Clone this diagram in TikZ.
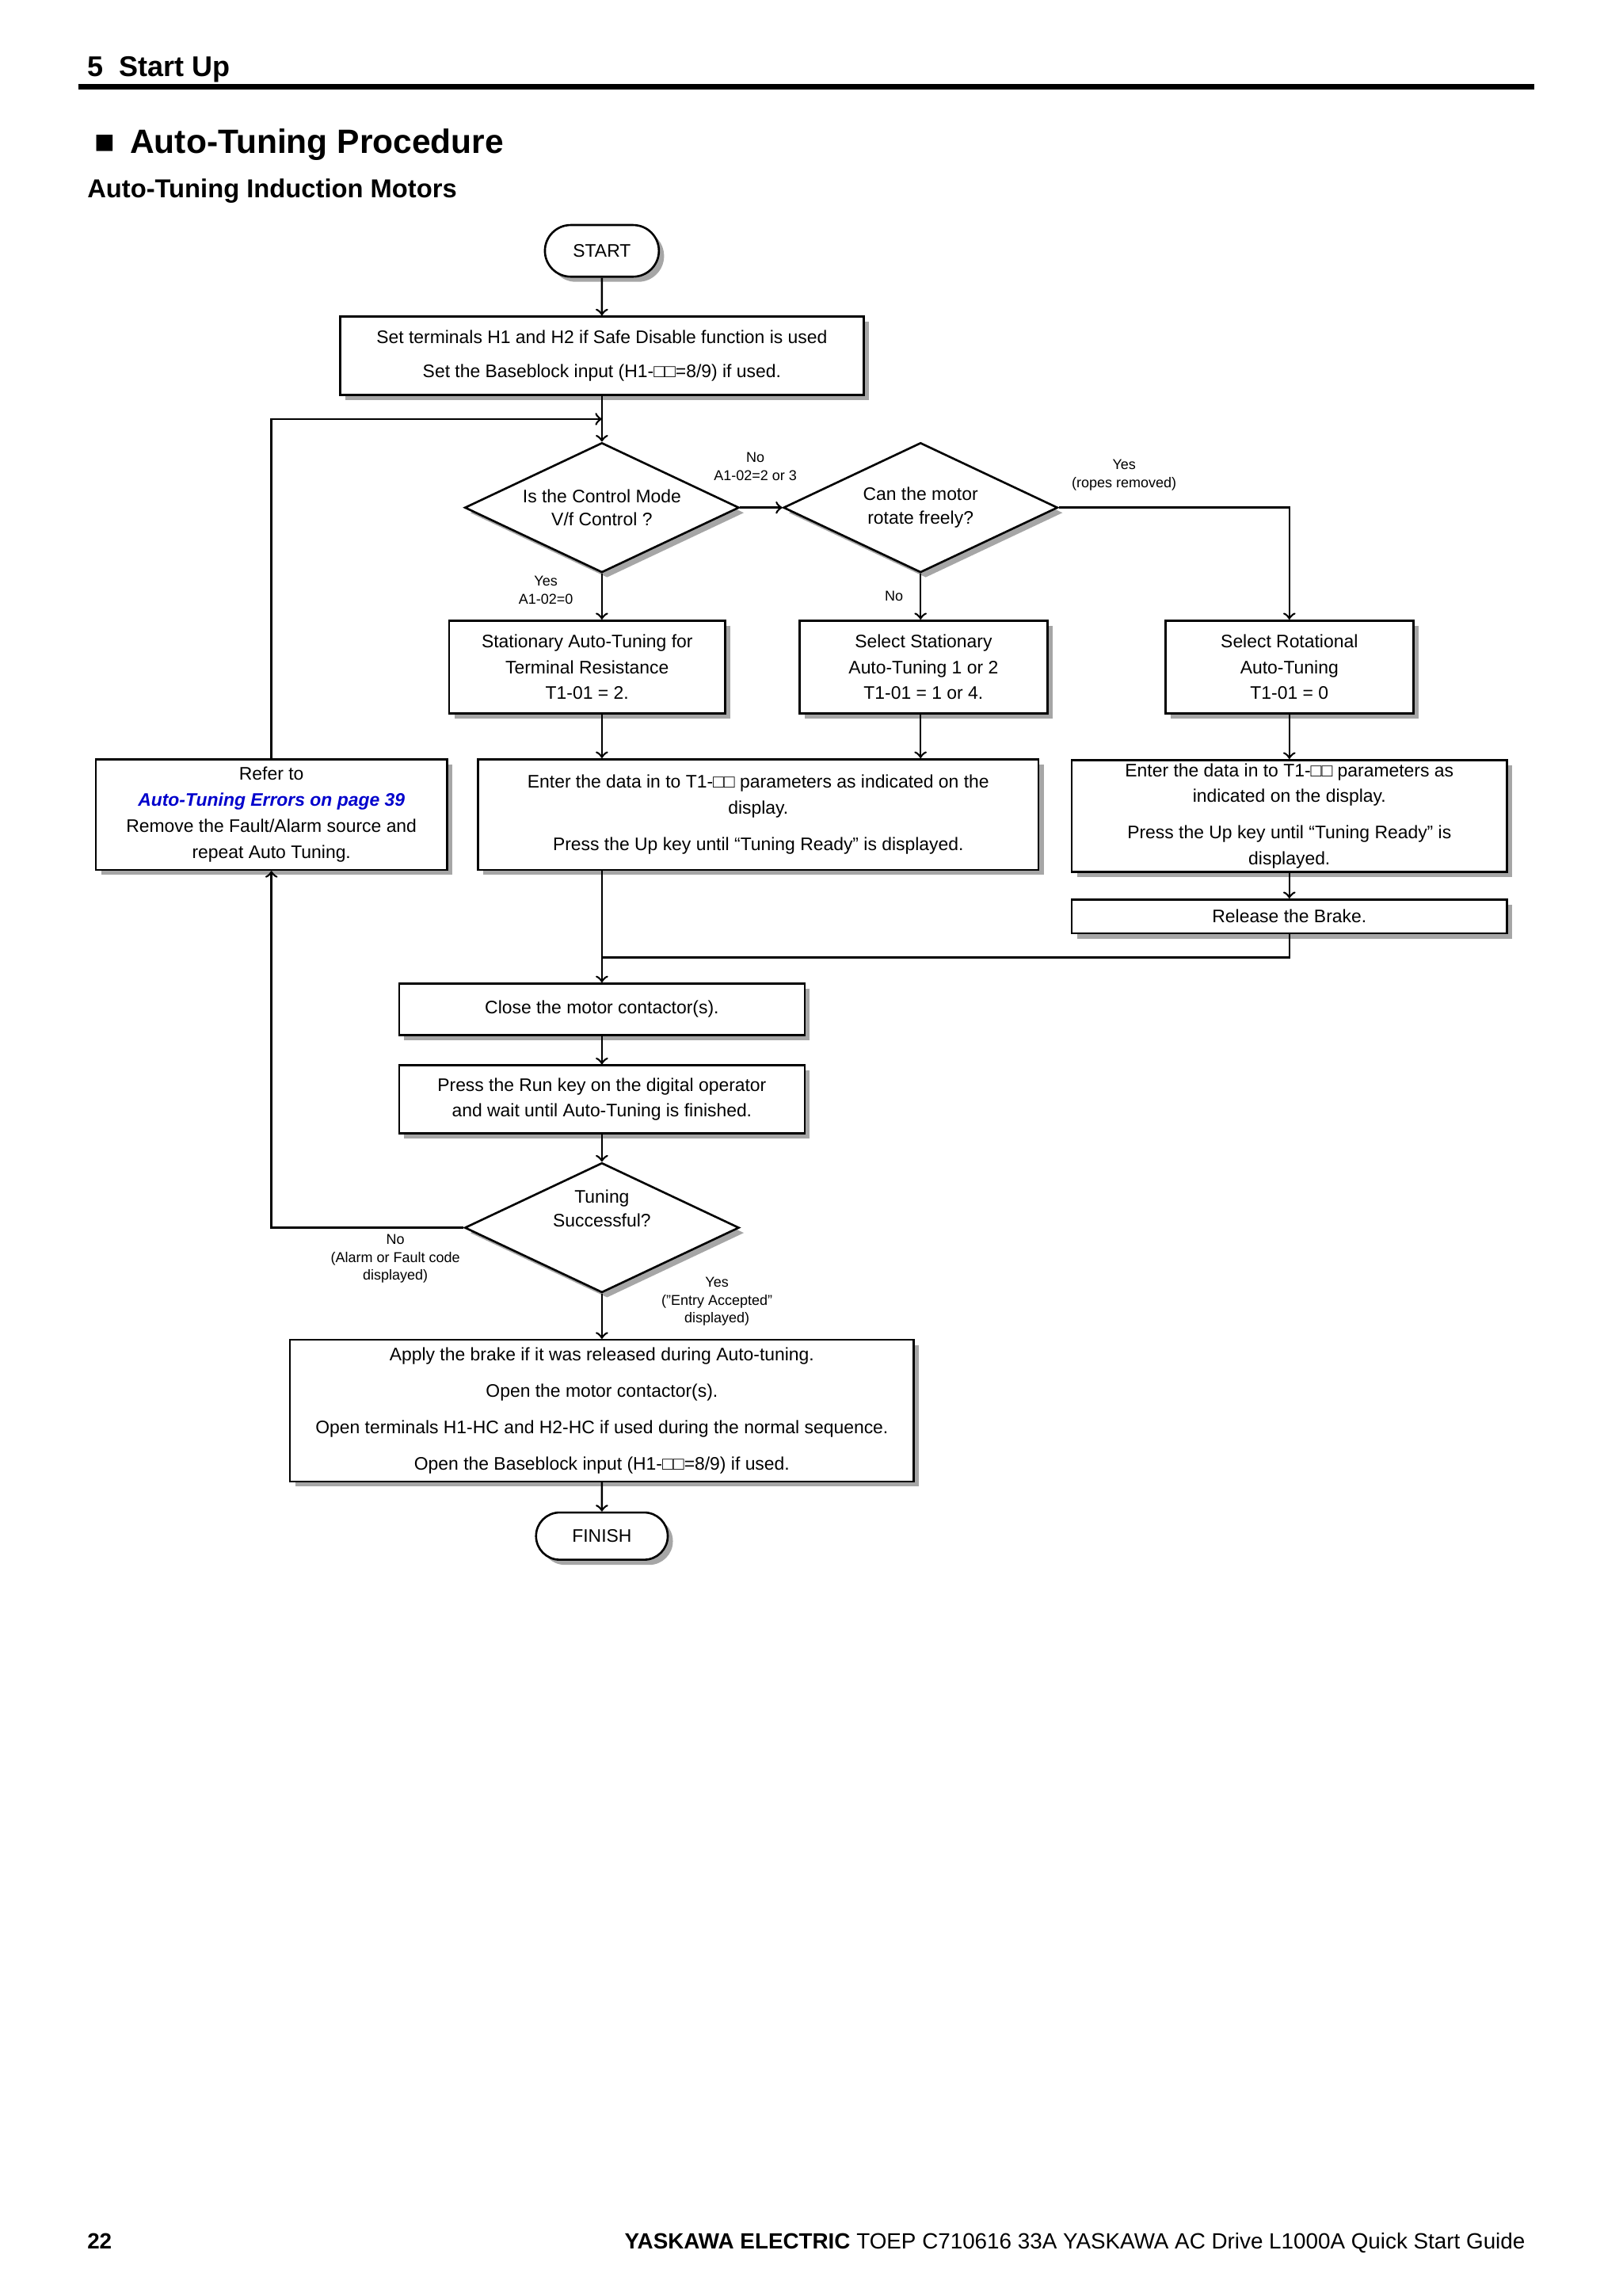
\documentclass[tikz,border=0pt]{standalone}
\usepackage{fontspec}
\setmainfont{Liberation Sans}
\usetikzlibrary{shapes.geometric,shapes.misc,shadows}
\tikzset{
  shade/.style={drop shadow={shadow xshift=0.07cm, shadow yshift=-0.07cm, fill=black!35, opacity=1}},
  block/.style={rectangle, draw, thick, fill=white, shade, align=center, inner sep=1pt, font=\fontsize{7}{10}\selectfont},
  term/.style={rounded rectangle, draw, thick, fill=white, shade, font=\fontsize{7}{9}\selectfont},
  decision/.style={diamond, draw, thick, fill=white, shade, aspect=2.1, inner sep=0pt, align=center, font=\fontsize{7}{9}\selectfont},
  lbl/.style={align=center, font=\fontsize{5.5}{7}\selectfont},
  line/.style={draw, thick, ->}
}
\newcommand{\bx}{□□}
\begin{document}
\begin{tikzpicture}[x=0.02cm,y=-0.02cm]
  \useasboundingbox (0,0) rectangle (1100,1556);
  % header and footer
  \node [anchor=base west, font=\bfseries\fontsize{11}{13}\selectfont] (hd) at (53,52) {5\ \ Start Up};
  \draw [line width=2.2pt] (53,59) -- (1040,59);
  \node [anchor=base west, font=\bfseries\fontsize{13}{15}\selectfont] (ttl) at (58,104) {■ \,Auto-Tuning Procedure};
  \node [anchor=base west, font=\bfseries\fontsize{10}{12}\selectfont] (sub) at (53,134) {Auto-Tuning Induction Motors};
  \node [anchor=base west, font=\bfseries\fontsize{8.5}{10}\selectfont] (pg) at (53,1524) {22};
  \node [anchor=base east, font=\fontsize{8.5}{10}\selectfont] (ft) at (1040,1524) {\textbf{YASKAWA ELECTRIC} TOEP C710616 33A YASKAWA AC Drive L1000A Quick Start Guide};

  % nodes
  \node [term, minimum width=1.78cm, minimum height=0.7cm] (start) at (408,170) {START};
  \node [block, minimum width=7.1cm, minimum height=1.06cm] (set) at (408,241)
    {Set terminals H1 and H2 if Safe Disable function is used\\[3pt] Set the Baseblock input (H1-\bx=8/9) if used.};
  \node [decision, minimum width=3.72cm, minimum height=1.76cm] (mode) at (408,344) {Is the Control Mode\\V/f Control ?};
  \node [decision, minimum width=3.72cm, minimum height=1.76cm] (free) at (624,344) {Can the motor\\rotate freely?};
  \node [block, minimum width=3.74cm, minimum height=1.26cm] (stat) at (398,452)
    {Stationary Auto-Tuning for\\Terminal Resistance\\T1-01 = 2.};
  \node [block, minimum width=3.36cm, minimum height=1.26cm] (selstat) at (626,452)
    {Select Stationary\\Auto-Tuning 1 or 2\\T1-01 = 1 or 4.};
  \node [block, minimum width=3.36cm, minimum height=1.26cm] (rot) at (874,452)
    {Select Rotational\\Auto-Tuning\\T1-01 = 0};
  \node [block, minimum width=4.76cm, minimum height=1.5cm] (refer) at (184,552)
    {Refer to\\ \textcolor{blue!80!black}{\textbf{\textit{Auto-Tuning Errors on page 39}}}\\Remove the Fault/Alarm source and\\repeat Auto Tuning.};
  \node [block, minimum width=7.6cm, minimum height=1.5cm] (enter) at (514,552)
    {Enter the data in to T1-\bx\ parameters as indicated on the\\display.\\[4pt]Press the Up key until “Tuning Ready” is displayed.};
  \node [block, minimum width=5.9cm, minimum height=1.52cm] (enterr) at (874,553)
    {Enter the data in to T1-\bx\ parameters as\\indicated on the display.\\[4pt]Press the Up key until “Tuning Ready” is\\displayed.};
  \node [block, minimum width=5.9cm, minimum height=0.46cm] (brake) at (874,621) {Release the Brake.};
  \node [block, minimum width=5.5cm, minimum height=0.7cm] (close) at (408,684) {Close the motor contactor(s).};
  \node [block, minimum width=5.5cm, minimum height=0.92cm] (run) at (408,745)
    {Press the Run key on the digital operator\\and wait until Auto-Tuning is finished.};
  \node [decision, minimum width=3.72cm, minimum height=1.76cm] (ok) at (408,832) {Tuning\\Successful?\\[6pt]};
  \node [block, minimum width=8.46cm, minimum height=1.92cm] (apply) at (408,956)
    {Apply the brake if it was released during Auto-tuning.\\[4pt]Open the motor contactor(s).\\[4pt]Open terminals H1-HC and H2-HC if used during the normal sequence.\\[4pt]Open the Baseblock input (H1-\bx=8/9) if used.};
  \node [term, minimum width=2.02cm, minimum height=0.64cm] (finish) at (408,1041) {FINISH};
  \coordinate (jn) at (408,649);
  \coordinate (loop) at (408,284);

  % connectors
  \path [line] (start) -- (set);
  \path [line] (set) -- (mode);
  \path [line] (mode) -- (free);
  \node [lbl] (no1) at (512,316) {No\\A1-02=2 or 3};
  \path [line] (free.east) -| (rot);
  \node [lbl] (yes1) at (762,322) {Yes\\(ropes removed)};
  \path [line] (mode) -- (mode |- stat.north);
  \node [lbl] (yes2) at (370,400) {Yes\\A1-02=0};
  \path [line] (free) -- (free |- selstat.north);
  \node [lbl] (no2) at (606,404) {No};
  \path [line] (stat.south -| mode) -- (mode |- enter.north);
  \path [line] (selstat.south -| free) -- (free |- enter.north);
  \path [line] (rot) -- (enterr);
  \path [line] (enterr) -- (brake);
  \path [line] (enter.south -| mode) -- (close);
  \draw [thick] (brake) -- (brake |- jn) -- (jn);
  \path [line] (close) -- (run);
  \path [line] (run) -- (ok);
  \path [line] (ok.west) -| (refer.south);
  \node [lbl] (no3) at (268,853) {No\\(Alarm or Fault code\\displayed)};
  \path [line] (refer.north) |- (loop);
  \path [line] (ok) -- (apply);
  \node [lbl] (yes3) at (486,882) {Yes\\(”Entry Accepted”\\displayed)};
  \path [line] (apply) -- (finish);
\end{tikzpicture}
\end{document}
